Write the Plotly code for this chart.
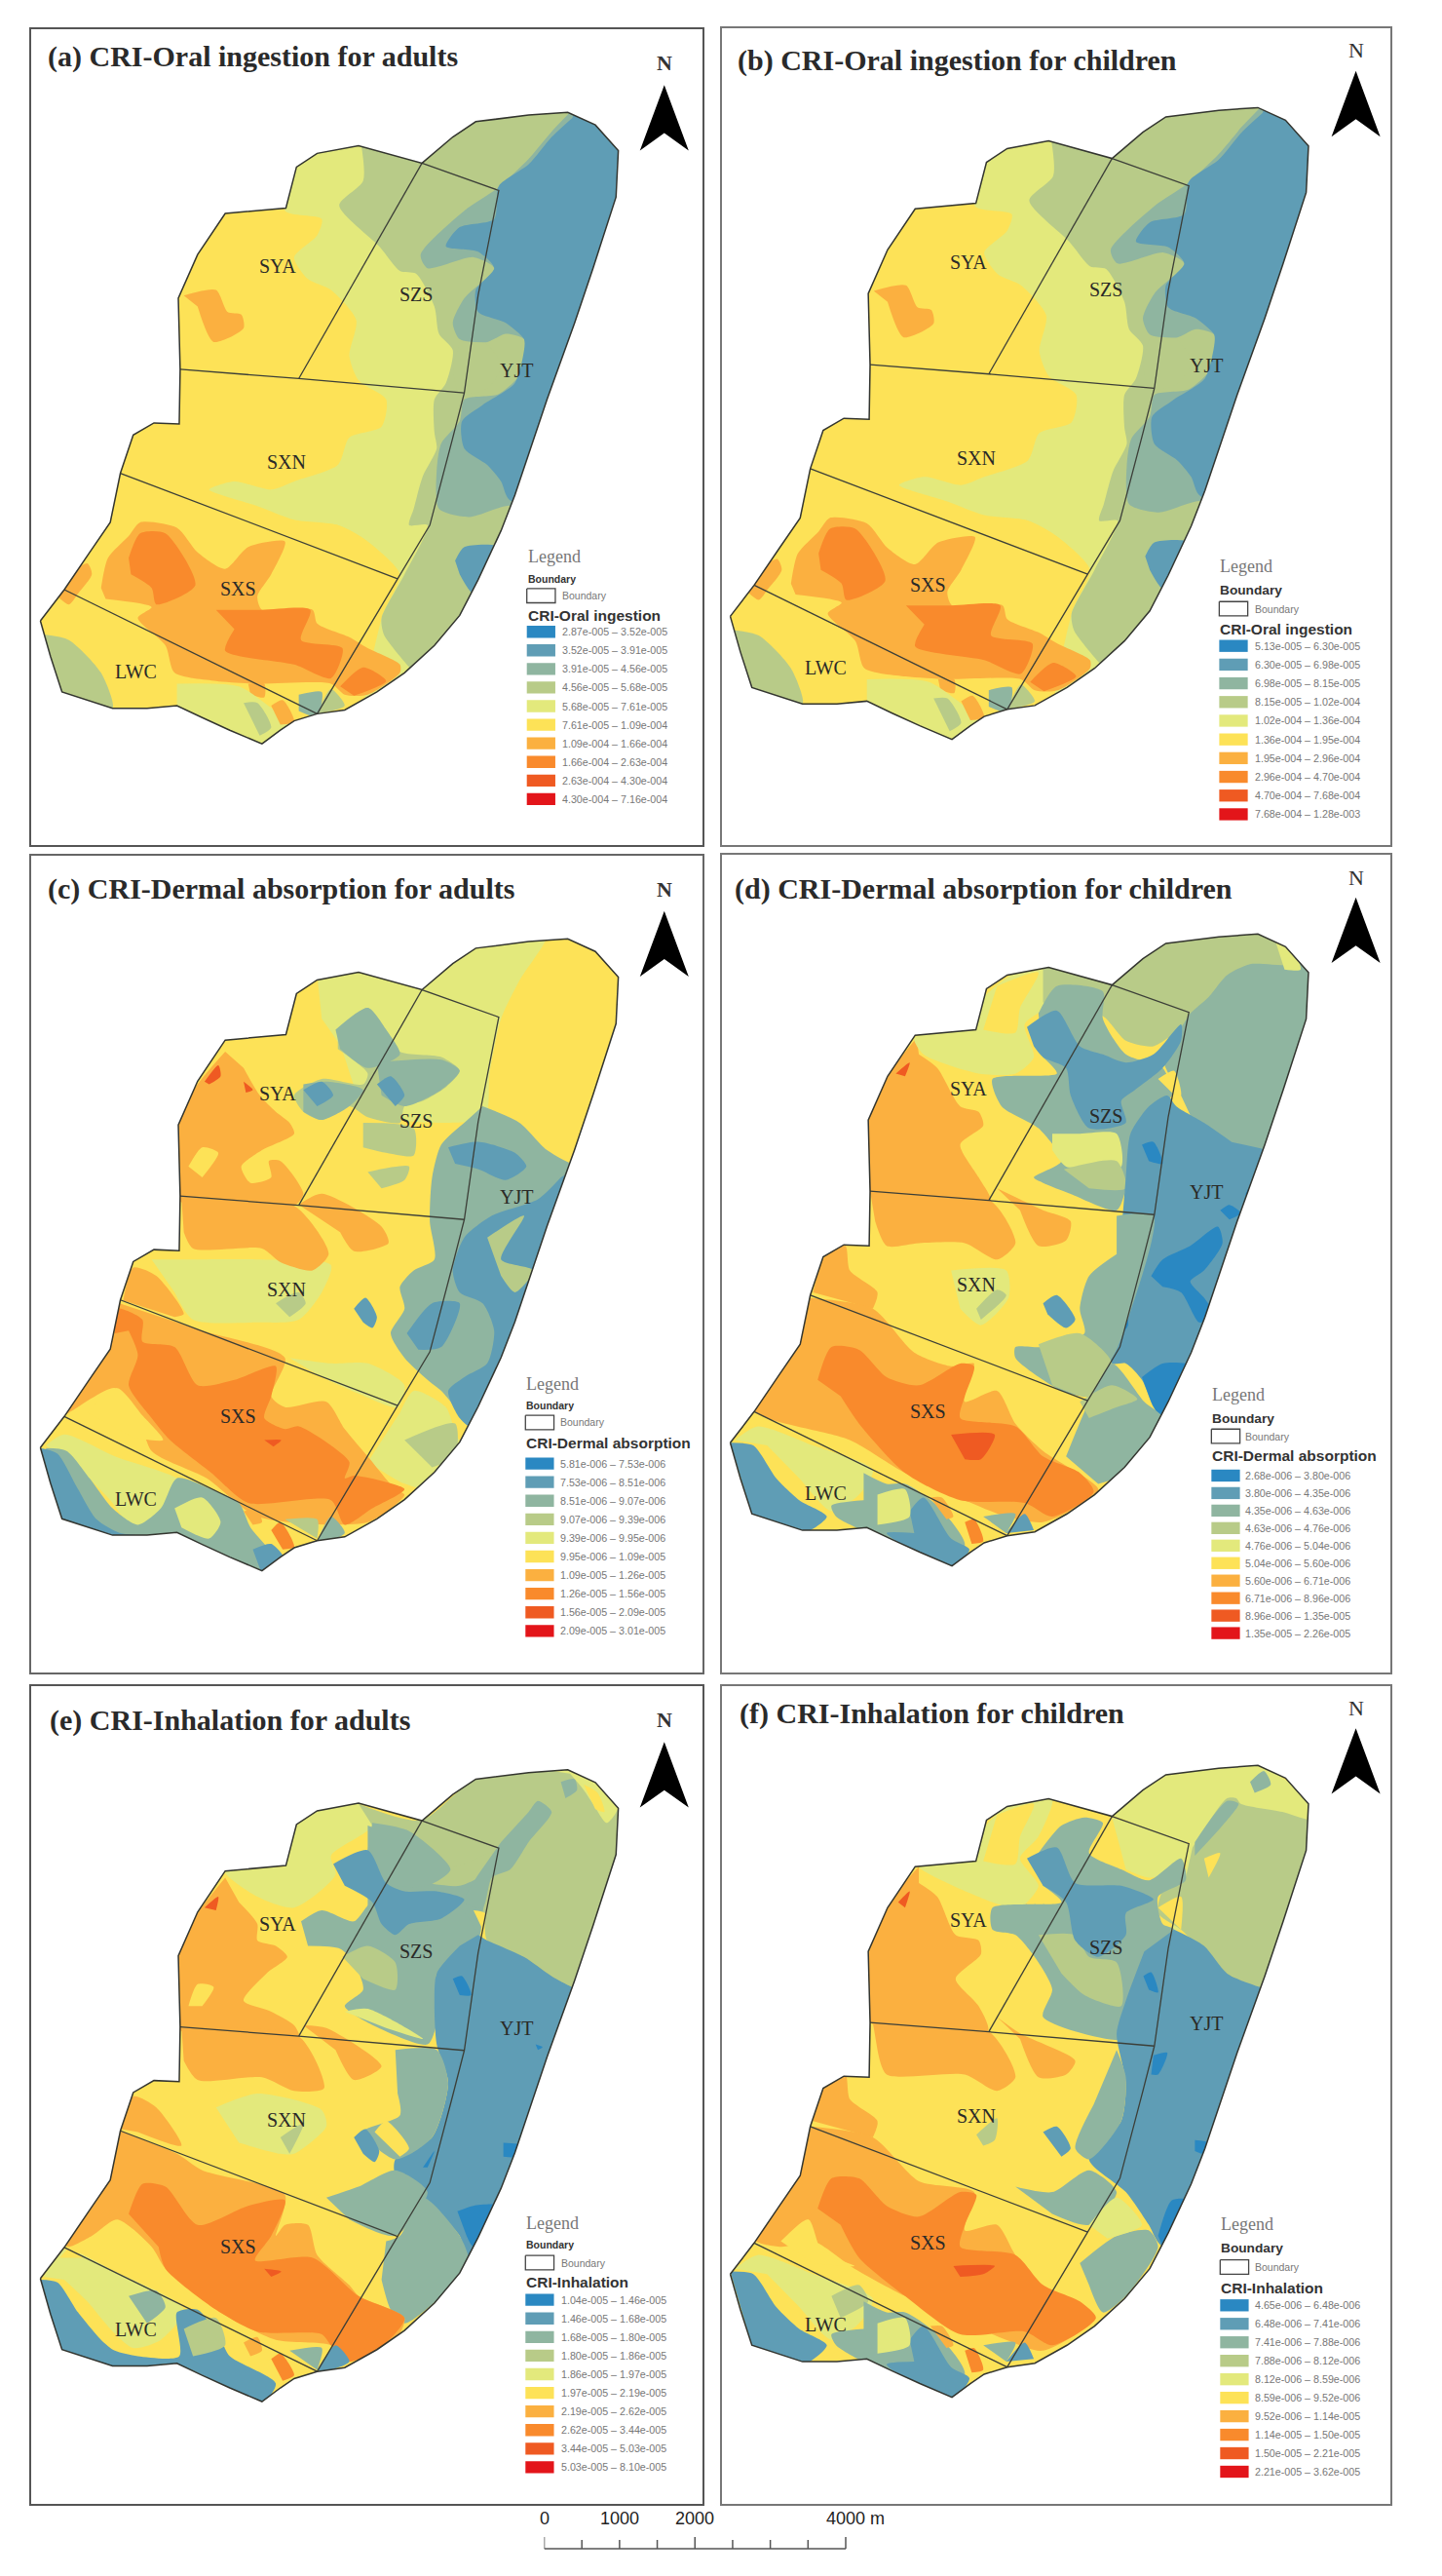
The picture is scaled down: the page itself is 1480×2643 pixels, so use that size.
import plotly.graph_objects as go

W, H = 1480, 2643
COLORS = ["#2a88c2", "#5f9db5", "#8fb5a0", "#b8cb88", "#e3e97c", "#fde257", "#fbb040", "#f98a2c", "#ef5a22", "#e3151a"]
PANEL_TITLES = ["(a) CRI-Oral ingestion for adults", "(b) CRI-Oral ingestion for children",
                "(c) CRI-Dermal absorption for adults", "(d) CRI-Dermal absorption for children",
                "(e) CRI-Inhalation for adults", "(f) CRI-Inhalation for children"]
HEADINGS = ["CRI-Oral ingestion", "CRI-Oral ingestion", "CRI-Dermal absorption", "CRI-Dermal absorption", "CRI-Inhalation", "CRI-Inhalation"]
BREAKS_A = ["2.87e-005", "3.52e-005", "3.91e-005", "4.56e-005", "5.68e-005", "7.61e-005", "1.09e-004", "1.66e-004", "2.63e-004", "4.30e-004", "7.16e-004"]
BREAKS_B = ["5.13e-005", "6.30e-005", "6.98e-005", "8.15e-005", "1.02e-004", "1.36e-004", "1.95e-004", "2.96e-004", "4.70e-004", "7.68e-004", "1.28e-003"]
BREAKS_C = ["5.81e-006", "7.53e-006", "8.51e-006", "9.07e-006", "9.39e-006", "9.95e-006", "1.09e-005", "1.26e-005", "1.56e-005", "2.09e-005", "3.01e-005"]
BREAKS_D = ["2.68e-006", "3.80e-006", "4.35e-006", "4.63e-006", "4.76e-006", "5.04e-006", "5.60e-006", "6.71e-006", "8.96e-006", "1.35e-005", "2.26e-005"]
BREAKS_E = ["1.04e-005", "1.46e-005", "1.68e-005", "1.80e-005", "1.86e-005", "1.97e-005", "2.19e-005", "2.62e-005", "3.44e-005", "5.03e-005", "8.10e-005"]
BREAKS_F = ["4.65e-006", "6.48e-006", "7.41e-006", "7.88e-006", "8.12e-006", "8.59e-006", "9.52e-006", "1.14e-005", "1.50e-005", "2.21e-005", "3.62e-005"]

# map geometry (map units)
OUTLINE = [88,1135, 140,1078, 195,1010, 240,955, 262,865, 290,795, 335,773, 390,775, 392,675, 388,545, 430,465, 490,390,
           622,380, 645,305, 690,280, 780,266, 918,298, 985,250, 1035,222, 1150,210, 1235,205, 1295,228, 1345,275, 1340,360,
           1290,490, 1250,590, 1190,730, 1120,905, 1090,970, 1040,1060, 1000,1125, 945,1180, 880,1230, 820,1265, 750,1298,
           690,1305, 640,1318, 610,1335, 570,1360, 500,1335, 440,1312, 385,1290, 320,1295, 245,1295, 135,1265, 110,1200, 88,1135]
BOUNDARIES = [[918,298, 1085,348, 1040,540, 1010,718, 985,800, 935,960, 865,1058, 690,1305],
              [918,298, 650,692],
              [392,675, 650,692, 1010,718],
              [262,865, 865,1058],
              [140,1078, 690,1305]]
DISTRICTS = ["SYA", "SZS", "YJT", "SXN", "SXS", "LWC"]
DISTRICT_X = [605, 905, 1123, 623, 518, 295]
DISTRICT_Y = [487, 537, 677, 845, 1077, 1228]

REGIONS_A = [
 (4, [600,200, 640,290, 620,385, 700,400, 690,430, 640,470, 670,510, 720,530, 775,585, 760,650, 780,695, 840,730, 830,780, 760,800, 735,850, 640,880, 590,895, 510,880, 455,895, 560,925, 640,950, 735,960, 800,990, 870,1050, 830,1130, 800,1400, 1400,1400, 1400,100, 600,100]),
 (5, [650,955, 735,960, 800,990, 860,1045, 640,985]),
 (3, [785,260, 790,330, 738,375, 825,450, 870,495, 905,500, 945,560, 955,610, 985,640, 970,700, 945,730, 945,790, 950,820, 920,870, 900,930, 890,960, 930,960, 880,1050, 830,1130, 835,1160, 880,1210, 930,1260, 1000,1400, 1400,1400, 1400,100, 785,100]),
 (2, [1240,205, 1200,240, 1150,290, 1080,345, 1010,385, 915,465, 930,490, 1030,470, 1075,490, 1010,545, 985,590, 1000,620, 1060,625, 1100,610, 1140,620, 1135,680, 1085,720, 1010,730, 1000,770, 960,810, 950,860, 955,930, 1020,945, 1100,925, 1400,900, 1400,100, 1250,100]),
 (3, [1000,625, 1060,630, 1090,670, 1060,710, 1000,720, 985,670]),
 (1, [1245,215, 1200,250, 1150,300, 1085,340, 1075,400, 1000,415, 970,450, 1040,460, 1075,490, 1035,530, 1040,570, 1100,590, 1140,620, 1140,640, 1120,700, 1050,740, 1005,770, 1010,820, 1060,850, 1090,880, 1110,915, 1400,900, 1400,100, 1300,100]),
 (1, [990,1025, 1010,1000, 1085,1000, 1030,1085, 1000,1050]),
 (6, [400,540, 470,530, 495,570, 525,575, 530,600, 465,625, 430,560]),
 (6, [220,1075, 235,1020, 280,980, 305,955, 385,965, 430,1010, 490,1040, 540,1000, 620,990, 590,1050, 560,1090, 570,1115, 680,1115, 690,1140, 760,1165, 800,1185, 870,1215, 870,1230, 800,1270, 750,1270, 720,1250, 560,1250, 470,1245, 380,1230, 360,1180, 300,1130, 330,1110, 230,1095]),
 (6, [150,1050, 190,1030, 200,1050, 170,1085, 150,1105, 125,1090]),
 (6, [540,1250, 575,1250, 575,1275, 545,1270]),
 (7, [280,1020, 305,975, 360,975, 425,1070, 340,1105, 330,1075, 285,1050]),
 (7, [470,1115, 570,1115, 675,1115, 655,1170, 745,1185, 720,1240, 640,1215, 490,1190, 510,1150]),
 (7, [740,1255, 790,1220, 840,1245, 770,1272]),
 (4, [385,1250, 520,1255, 600,1300, 640,1320, 570,1360, 385,1290]),
 (6, [590,1290, 615,1280, 640,1320, 610,1325]),
 (3, [95,1160, 150,1170, 220,1230, 245,1295, 135,1270]),
 (3, [530,1285, 560,1285, 590,1330, 565,1345]),
 (3, [690,1305, 720,1260, 750,1290, 720,1300]),
 (2, [650,1270, 700,1265, 690,1310, 650,1300]),
]
REGIONS_C = [
 (4, [690,250, 780,240, 915,270, 1035,190, 1190,175, 1130,260, 1090,330, 1065,430, 1055,510, 960,520, 800,500, 740,380, 700,330]),
 (4, [330,770, 400,770, 560,770, 720,780, 700,830, 650,880, 560,885, 420,880, 380,830]),
 (3, [600,850, 650,830, 665,850, 630,875]),
 (4, [630,950, 720,960, 800,960, 880,1000, 865,1040, 780,1015, 700,985]),
 (4, [870,1050, 900,1010, 970,1040, 1000,1100, 1050,1080, 1020,1130, 940,1190, 880,1180, 800,1140]),
 (3, [880,1100, 990,1070, 990,1130, 940,1150]),
 (4, [100,1110, 140,1090, 250,1130, 400,1180, 350,1240, 290,1260, 240,1210, 170,1150]),
 (6, [490,390, 430,450, 385,525, 385,660, 640,672, 660,650, 610,590, 585,590, 590,620, 545,630, 525,600, 570,570, 640,540, 630,520, 600,500, 565,470, 530,420]),
 (5, [410,600, 440,565, 475,575, 440,620]),
 (6, [395,660, 640,672, 715,760, 680,790, 610,775, 570,750, 420,750, 400,720]),
 (6, [650,670, 700,650, 830,710, 845,740, 770,755, 740,720]),
 (6, [268,845, 290,785, 340,800, 400,870, 380,875]),
 (6, [260,850, 440,900, 620,950, 590,1020, 620,1040, 710,1030, 750,1080, 800,1130, 860,1190, 880,1200, 800,1250, 560,1240, 450,1170, 330,1120, 300,1050, 250,1005, 150,1050, 135,1055, 170,1010, 235,940, 250,880]),
 (5, [190,1050, 255,1005, 310,1055, 355,1100, 290,1095]),
 (7, [250,905, 255,860, 310,880, 310,920, 380,930, 430,1000, 510,990, 600,965, 590,1020, 575,1060, 620,1080, 650,1075, 760,1140, 750,1170, 770,1165, 880,1190, 810,1225, 750,1255, 720,1210, 540,1215, 460,1160, 370,1100, 330,1060, 280,1000, 300,945, 280,900]),
 (8, [575,1100, 612,1100, 595,1112]),
 (8, [445,445, 475,415, 480,435, 455,450]),
 (8, [530,445, 550,460, 535,465]),
 (3, [735,355, 800,310, 840,350, 870,390, 960,400, 1000,425, 970,455, 920,480, 880,490, 870,520, 800,510, 760,490, 700,515, 660,500, 640,470, 700,440, 790,450, 800,430, 760,400, 735,385]),
 (2, [660,450, 710,445, 790,460, 760,490, 700,515, 660,500]),
 (2, [730,350, 800,310, 840,350, 870,395, 800,420, 740,385]),
 (2, [820,410, 960,405, 1000,425, 960,460, 880,490, 830,470]),
 (1, [820,450, 850,435, 880,470, 860,490]),
 (1, [660,460, 700,445, 725,470, 690,490]),
 (3, [790,520, 900,530, 900,580, 840,575, 790,565]),
 (3, [800,610, 890,600, 880,625, 830,640]),
 (2, [1050,490, 1130,520, 1190,570, 1260,600, 1400,600, 1400,1300, 1030,1080, 990,1040, 960,1010, 930,990, 880,950, 850,905, 880,860, 870,820, 900,790, 945,770, 935,700, 940,620, 960,560, 1010,520]),
 (1, [1260,600, 1400,600, 1400,1100, 1040,1085, 1000,1060, 975,1010, 1010,985, 1060,960, 1075,900, 1050,850, 1000,830, 985,790, 1010,730, 1070,690, 1170,660, 1220,620]),
 (3, [1060,730, 1140,690, 1090,770, 1160,790, 1120,830, 1090,800]),
 (1, [975,565, 1040,555, 1120,575, 1145,600, 1100,625, 1040,605, 990,595]),
 (1, [770,860, 795,840, 820,875, 810,895, 790,885]),
 (1, [885,905, 940,850, 1000,850, 960,930, 910,935]),
 (2, [100,1115, 145,1120, 195,1170, 245,1225, 300,1255, 350,1225, 385,1170, 460,1190, 520,1215, 545,1260, 600,1320, 570,1345, 380,1275, 240,1280, 135,1250]),
 (4, [380,1225, 440,1205, 480,1250, 455,1280, 395,1260]),
 (1, [88,1115, 125,1125, 170,1190, 210,1245, 260,1270, 300,1275, 240,1285, 135,1265]),
 (1, [550,1300, 590,1290, 620,1320, 570,1345]),
 (6, [530,1230, 560,1230, 570,1250, 550,1255]),
 (7, [590,1265, 610,1250, 640,1295, 615,1300]),
 (2, [690,1285, 720,1240, 750,1270, 700,1290]),
 (3, [620,1245, 690,1245, 690,1280]),
]
REGIONS_D = [
 (6, [425,365, 370,425, 320,515, 325,650, 585,662, 560,620, 520,560, 570,525, 560,500, 520,490, 470,420, 430,395]),
 (6, [325,650, 585,662, 640,740, 600,770, 530,740, 430,740, 360,745, 335,700]),
 (6, [600,640, 650,660, 700,680, 760,700, 750,735, 690,745, 650,680]),
 (6, [200,830, 225,765, 270,745, 280,790, 340,830, 330,860]),
 (4, [500,790, 620,790, 625,840, 565,890, 520,860]),
 (3, [555,860, 600,825, 620,835, 565,880]),
 (6, [190,840, 330,860, 420,940, 500,965, 550,960, 530,1000, 530,1030, 600,1010, 640,1070, 700,1120, 820,1190, 780,1220, 700,1250, 620,1240, 400,1160, 280,1100, 75,1048, 120,990, 170,925]),
 (7, [210,990, 240,930, 300,935, 360,985, 430,1000, 520,960, 550,965, 530,1020, 520,1060, 640,1075, 700,1130, 780,1160, 810,1195, 720,1240, 660,1215, 520,1210, 400,1160, 300,1070, 260,1020]),
 (8, [500,1090, 595,1090, 565,1135, 530,1135]),
 (8, [380,430, 410,410, 400,435]),
 (4, [30,1100, 80,1075, 200,1110, 330,1155, 300,1200, 240,1230, 170,1170, 100,1110]),
 (5, [70,1060, 100,1060, 60,1080]),
 (1, [20,1105, 70,1110, 120,1170, 170,1210, 230,1240, 180,1270, 70,1245]),
 (2, [310,1160, 360,1180, 400,1180, 470,1220, 530,1290, 500,1335, 320,1270, 250,1240, 240,1220, 310,1210]),
 (1, [410,1230, 440,1205, 500,1280, 540,1300, 500,1335, 360,1270, 420,1270]),
 (4, [340,1200, 400,1190, 410,1240, 340,1255]),
 (6, [455,1205, 480,1205, 505,1240, 490,1245]),
 (7, [530,1250, 550,1245, 570,1285, 545,1290]),
 (2, [570,1240, 640,1235, 620,1270]),
 (1, [620,1270, 660,1235, 680,1265]),
 (4, [570,290, 650,240, 730,235, 720,300, 660,340, 680,400, 640,430, 560,430, 440,395, 420,365, 555,350]),
 (5, [600,270, 690,245, 650,310, 640,355, 570,350]),
 (2, [1000,470, 960,400, 1000,320, 1110,200, 1400,100, 1400,800, 1190,650, 1050,560]),
 (3, [700,230, 850,260, 965,185, 1170,165, 1250,230, 1150,230, 1100,250, 1060,290, 1020,320, 1000,345, 940,380, 880,370, 830,325, 750,310, 700,300]),
 (4, [1200,175, 1240,200, 1260,240, 1225,240]),
 (2, [690,320, 730,270, 830,280, 830,330, 880,395, 960,420, 980,470, 930,500, 890,560, 880,640, 860,680, 760,650, 700,630, 680,620, 740,590, 690,530, 610,490, 590,440, 730,430, 700,400]),
 (4, [720,540, 780,540, 860,540, 870,600, 800,600, 750,600, 720,570]),
 (3, [745,605, 860,590, 880,640, 800,640]),
 (1, [665,345, 730,315, 780,380, 830,395, 880,410, 940,395, 1000,340, 1000,370, 960,420, 900,460, 870,480, 880,520, 800,530, 760,470, 750,420, 700,400, 680,380]),
 (5, [950,440, 985,425, 1000,470, 980,465]),
 (1, [1190,570, 1400,600, 1400,1100, 960,1060, 940,1040, 915,990, 880,960, 850,960, 800,900, 850,840, 870,720, 880,620, 890,540, 930,490, 970,470, 990,490, 1050,520, 1110,555]),
 (0, [935,800, 960,770, 1020,745, 1080,710, 1090,740, 1050,790, 1020,810, 1050,840, 1070,870, 1040,885, 1000,830, 960,820]),
 (0, [915,985, 960,960, 1025,965, 960,1060, 935,1030]),
 (0, [915,560, 940,555, 960,595, 930,590]),
 (0, [1085,680, 1105,670, 1130,685, 1105,697]),
 (0, [1140,650, 1170,610, 1175,630, 1150,675]),
 (0, [840,905, 880,870, 885,890, 860,915]),
 (2, [860,690, 940,690, 880,890, 850,950, 790,1000, 800,1020, 740,1010, 640,950, 640,930, 700,930, 790,905, 780,860, 800,800, 860,760]),
 (3, [690,925, 780,905, 850,960, 800,1020, 720,1000]),
 (1, [700,850, 730,835, 770,880, 750,895, 710,870]),
 (2, [750,1130, 800,1030, 850,960, 920,1030, 960,1060, 880,1160, 820,1180]),
 (3, [780,1030, 850,1000, 905,1025, 860,1040, 800,1060]),
]
REGIONS_E = [
 (4, [645,285, 700,255, 780,250, 810,290, 720,345, 730,380, 640,440, 560,420, 490,375, 620,365]),
 (3, [780,250, 915,280, 1035,205, 1230,185, 1300,205, 1400,260, 1400,600, 1260,590, 1200,565, 1140,530, 1060,500, 1050,450, 1000,440, 1010,420, 1050,380, 1085,340, 980,370, 890,320, 810,290]),
 (4, [1200,190, 1240,185, 1300,205, 1345,255, 1320,285, 1290,250, 1270,225, 1240,195]),
 (5, [1270,215, 1300,230, 1315,265, 1295,260]),
 (2, [1220,210, 1250,205, 1255,225, 1230,240]),
 (2, [800,290, 890,320, 980,375, 1060,370, 1050,450, 1040,500, 950,560, 800,520]),
 (3, [890,310, 980,365, 1085,335, 1060,375, 1000,400, 930,395]),
 (2, [1090,320, 1150,265, 1170,245, 1200,265, 1150,320, 1110,370, 1070,385, 1050,440, 1010,430, 1040,380]),
 (2, [810,285, 890,300, 980,370, 930,400, 840,395, 800,335]),
 (2, [655,465, 700,445, 770,465, 810,430, 890,480, 960,460, 1000,440, 1040,500, 1000,510, 950,560, 950,650, 930,690, 800,650, 750,620, 790,590, 770,540, 740,515, 670,510]),
 (5, [1030,445, 1055,450, 1050,480]),
 (3, [745,530, 800,510, 860,540, 860,590, 790,570]),
 (4, [750,630, 800,625, 920,680, 840,660]),
 (1, [725,360, 800,335, 840,395, 880,410, 950,410, 1010,425, 960,460, 890,470, 860,490, 830,470, 810,430, 750,400]),
 (1, [1040,490, 1060,500, 1140,530, 1200,565, 1260,590, 1400,600, 1400,1100, 1020,1090, 1000,1040, 920,970, 860,930, 860,900, 940,860, 975,760, 950,690, 945,620, 950,560, 1000,510]),
 (0, [985,570, 1005,565, 1025,600, 1000,600]),
 (0, [1095,870, 1135,875, 1125,895, 1095,895]),
 (0, [1165,690, 1180,695, 1170,700]),
 (0, [1215,665, 1230,650, 1225,680]),
 (0, [995,995, 1030,985, 1085,985, 1030,1060, 1015,1040]),
 (0, [920,915, 945,885, 930,915]),
 (2, [860,700, 950,700, 975,760, 940,860, 860,900, 790,850, 870,820, 865,780]),
 (2, [710,970, 780,950, 860,920, 930,960, 860,1040, 760,1010]),
 (2, [840,1050, 870,1040, 920,970, 1000,1040, 1020,1090, 960,1150, 880,1200, 850,1175, 830,1120]),
 (1, [770,860, 795,845, 825,885, 815,905, 790,890]),
 (5, [815,850, 840,830, 890,880, 870,895]),
 (4, [470,805, 560,780, 700,810, 710,840, 640,890, 610,890, 520,870]),
 (3, [610,860, 660,835, 630,890]),
 (6, [490,385, 430,450, 385,525, 385,660, 650,675, 640,655, 590,630, 530,610, 580,560, 625,530, 600,510, 560,500, 560,470, 520,430]),
 (5, [410,620, 430,580, 465,585, 440,620]),
 (6, [395,660, 650,675, 705,770, 640,775, 570,750, 430,755, 400,720]),
 (6, [660,655, 710,660, 830,730, 770,755, 730,700]),
 (6, [265,845, 290,785, 340,805, 395,875, 300,850]),
 (6, [262,848, 385,890, 440,920, 620,965, 600,1040, 620,1020, 670,1020, 690,1075, 760,1130, 780,1150, 880,1190, 860,1230, 750,1270, 720,1240, 600,1230, 480,1180, 360,1100, 330,1060, 255,1010, 200,1040, 150,1060, 140,1055, 180,1000, 235,940, 250,880]),
 (7, [280,1000, 310,945, 360,950, 430,1020, 540,985, 620,975, 590,1040, 555,1085, 680,1080, 780,1150, 880,1190, 840,1235, 760,1270, 720,1240, 700,1220, 560,1215, 470,1175, 360,1100, 345,1060]),
 (4, [95,1115, 140,1065, 250,1105, 400,1175, 350,1230, 290,1245, 240,1210, 190,1160, 140,1120]),
 (5, [130,1080, 155,1060, 180,1080]),
 (1, [88,1120, 125,1125, 170,1180, 220,1230, 250,1250, 300,1260, 390,1260, 385,1180, 430,1175, 480,1230, 500,1260, 600,1310, 570,1345, 385,1275, 245,1285, 135,1265]),
 (2, [280,1150, 340,1140, 360,1170, 320,1200]),
 (3, [400,1210, 470,1190, 490,1240, 420,1260]),
 (6, [530,1235, 560,1225, 570,1250, 545,1260]),
 (7, [590,1265, 610,1255, 640,1295, 615,1305]),
 (2, [630,1250, 700,1245, 690,1285]),
 (1, [690,1285, 730,1240, 760,1270, 700,1290]),
 (8, [575,1100, 612,1105, 590,1115]),
 (8, [445,440, 475,420, 470,445]),
]
REGIONS_F = [
 (4, [845,270, 980,192, 1170,178, 1280,240, 1400,300, 1400,620, 1190,590, 1050,500, 1010,480, 980,480, 1000,420, 1018,320]),
 (3, [1025,330, 1100,240, 1120,240, 1130,250, 1220,265, 1278,280, 1400,300, 1400,620, 1180,590, 1100,560, 1060,530, 1000,480, 950,450, 960,410, 1010,385]),
 (5, [1050,350, 1085,340, 1060,385]),
 (5, [950,440, 1000,420, 1000,480]),
 (2, [1150,210, 1180,190, 1195,215, 1160,230]),
 (2, [1030,320, 1100,245, 1125,250, 1090,290, 1030,345]),
 (4, [570,295, 620,255, 720,240, 690,310, 650,350, 690,400, 650,440, 590,430, 430,365, 555,355]),
 (5, [600,270, 680,250, 650,310, 640,360, 570,355]),
 (4, [850,275, 1015,320, 1000,370, 930,385, 880,370]),
 (2, [690,340, 740,290, 790,275, 830,285, 800,340, 870,370, 930,390, 1000,350, 1010,390, 950,420, 960,470, 985,480, 940,520, 890,600, 880,680, 700,640, 720,590, 690,540, 640,490, 590,480, 590,440, 740,430, 700,400]),
 (3, [690,490, 770,490, 800,530, 860,540, 870,620, 790,600, 740,560]),
 (1, [665,350, 730,330, 770,395, 870,400, 940,425, 880,450, 880,490, 820,530, 770,500, 750,430, 700,400]),
 (1, [985,480, 1050,510, 1100,560, 1190,590, 1400,620, 1400,1100, 960,1060, 930,1020, 880,960, 800,900, 870,830, 880,760, 860,670, 880,610, 920,520]),
 (0, [918,565, 935,558, 950,595, 930,590]),
 (0, [1030,865, 1060,870, 1050,890, 1030,885]),
 (0, [940,710, 970,705, 950,745, 935,745]),
 (0, [950,1040, 980,975, 1020,975, 960,1060]),
 (2, [780,1090, 860,1040, 930,1030, 950,1060, 880,1150, 830,1180, 800,1130]),
 (2, [640,950, 720,960, 800,920, 860,960, 800,1020, 720,1000]),
 (4, [800,1020, 860,970, 915,1020, 840,1045]),
 (1, [700,850, 730,840, 760,880, 740,895]),
 (2, [860,700, 880,750, 870,830, 800,900, 770,880, 810,800]),
 (3, [555,855, 600,825, 595,865, 570,875]),
 (6, [430,365, 370,425, 322,520, 325,650, 580,665, 560,620, 510,570, 565,525, 560,500, 510,490, 470,420, 430,395]),
 (6, [330,650, 580,665, 640,750, 600,775, 530,745, 360,745, 340,700]),
 (6, [600,640, 650,670, 770,720, 750,745, 690,750, 650,680]),
 (6, [200,830, 225,765, 270,745, 280,790, 340,830, 330,860]),
 (6, [195,840, 330,860, 430,940, 550,960, 530,1030, 600,1020, 640,1075, 700,1130, 810,1190, 700,1250, 620,1230, 400,1150, 290,1100, 200,1050, 130,1060, 75,1048, 120,990, 170,925]),
 (5, [130,1050, 190,1010, 220,1070, 290,1095, 200,1090]),
 (7, [210,990, 240,935, 300,935, 360,985, 430,1005, 520,960, 555,965, 530,1020, 520,1060, 640,1075, 700,1130, 780,1160, 815,1190, 720,1240, 660,1215, 520,1220, 400,1150, 300,1080, 260,1020]),
 (8, [505,1095, 595,1095, 570,1110, 520,1115]),
 (8, [385,430, 410,410, 400,440]),
 (4, [30,1100, 80,1075, 200,1110, 330,1155, 300,1200, 240,1230, 170,1170, 100,1110]),
 (3, [240,1150, 300,1130, 320,1160, 260,1190]),
 (1, [20,1105, 70,1110, 120,1170, 170,1210, 230,1240, 180,1275, 70,1250]),
 (2, [310,1160, 360,1180, 400,1180, 470,1220, 530,1290, 500,1340, 320,1275, 250,1240, 240,1220, 310,1210]),
 (1, [410,1230, 440,1205, 500,1280, 540,1300, 500,1340, 360,1275, 420,1270]),
 (4, [340,1200, 400,1190, 410,1240, 340,1255]),
 (6, [455,1205, 480,1205, 505,1240, 490,1245]),
 (7, [530,1250, 550,1245, 570,1285, 545,1290]),
 (2, [570,1240, 640,1235, 620,1270]),
 (1, [620,1270, 660,1235, 680,1265]),
]
# panel frames in map units and in page pixels, map shift relative to panel a
FRAME_X = [(68,1527), (2,1455), (68,1527), (2,1455), (68,1527), (2,1455)]
FRAME_Y = [(53,1545), (52,1545), (32,1525), (30,1525), (35,1530), (35,1530)]
PAGE_X = [(32,720.5), (741,1427), (32,720.5), (741,1427), (32,720.5), (741,1427)]
PAGE_Y = [(30,867), (29,867), (878,1716), (877,1716), (1730,2569), (1730,2569)]
FRAME_COLOR = ["#555555", "#777777", "#666666", "#777777", "#555555", "#777777"]
SHIFT = [(0,0), (-68,-8), (0,-21), (-68,-30), (0,-17), (-68,-25)]
TITLE_POS = [(105,103), (35,110), (105,92), (30,93), (108,97), (40,85)]
NORTH_POS = [(1445,115), (1380,92), (1445,93), (1380,72), (1445,97), (1380,75)]
ARROW_TIP = [155, 130, 133, 108, 137, 112]
LEG_X = [1146, 1083, 1143, 1066, 1143, 1085]
LEG_TEXT_X = [1222, 1160, 1218, 1140, 1220, 1160]
LEG_Y = [1018, 1035, 998, 1018, 1017, 1018]
LEG_BOLD_Y = [1058, 1079, 1037, 1060, 1056, 1062]
LEG_BOX_Y = [1076, 1100, 1055, 1080, 1076, 1084]
LEG_HEAD_Y = [1126, 1150, 1105, 1128, 1125, 1135]
LEG_FIRST_Y = [1155, 1181, 1143, 1165, 1157, 1167]
LEG_STEP_Y = [34, 34.2, 34, 32, 34, 33.8]
BOLD_SIZE = [10.5, 13.7, 10.5, 13.7, 10.5, 13.7]
BREAKS = [BREAKS_A, BREAKS_B, BREAKS_C, BREAKS_D, BREAKS_E, BREAKS_F]
REGIONS = [REGIONS_A, [], REGIONS_C, REGIONS_D, REGIONS_E, REGIONS_F]

SCALE_TICKS = [0, 500, 1000, 1500, 2000, 2500, 3000, 3500, 4000]
SCALE_LABELS = {0: "0", 1000: "1000", 2000: "2000", 4000: "4000 m"}

fig = go.Figure()
layout = dict(width=W, height=H, margin=dict(l=0, r=0, t=0, b=0), paper_bgcolor="white", plot_bgcolor="white", showlegend=False)
annos = []


def poly(xa, ya, flat, color, dx=0, dy=0, smooth=False):
    ln = dict(width=0, shape="spline", smoothing=0.7) if smooth else dict(width=0)
    fig.add_trace(go.Scatter(x=[v + dx for v in flat[0::2]], y=[v + dy for v in flat[1::2]], mode="lines", fill="toself",
                             fillcolor=color, line=ln, hoverinfo="skip", xaxis=xa, yaxis=ya))


def line(xa, ya, flat, color, width, dx=0, dy=0):
    fig.add_trace(go.Scatter(x=[v + dx for v in flat[0::2]], y=[v + dy for v in flat[1::2]], mode="lines",
                             line=dict(width=width, color=color), hoverinfo="skip", xaxis=xa, yaxis=ya))


def text(xa, ya, x, y, s, size, color, family, anchor="left"):
    annos.append(dict(x=x, y=y, xref=xa, yref=ya, text=s, showarrow=False, xanchor=anchor, yanchor="middle",
                      align="left", font=dict(size=size, color=color, family=family), borderpad=0, borderwidth=0))


SERIF = "Liberation Serif"
SANS = "Liberation Sans"
for i in range(6):
    n = "" if i == 0 else str(i + 1)
    xa, ya = "x" + n, "y" + n
    x0, x1 = FRAME_X[i]
    y0, y1 = FRAME_Y[i]
    lw = 1.5 if i % 2 == 0 else 2
    layout["xaxis" + n] = dict(domain=[PAGE_X[i][0] / W, PAGE_X[i][1] / W], range=[x0, x1], visible=True, showticklabels=False,
                               ticks="", showgrid=False, zeroline=False, showline=True, mirror=True, linecolor=FRAME_COLOR[i], linewidth=lw, anchor=ya)
    layout["yaxis" + n] = dict(domain=[1 - PAGE_Y[i][1] / H, 1 - PAGE_Y[i][0] / H], range=[y1, y0], visible=True, showticklabels=False,
                               ticks="", showgrid=False, zeroline=False, showline=True, mirror=True, linecolor=FRAME_COLOR[i], linewidth=lw, anchor=xa)
    dx, dy = SHIFT[i]
    # base fill: the whole map in the dominant class
    poly(xa, ya, OUTLINE, COLORS[5], dx, dy)
    if i == 1:
        regs, rdx, rdy = REGIONS_A, dx, dy
    else:
        regs, rdx, rdy = REGIONS[i], 0, 0
    for c, flat in regs:
        poly(xa, ya, flat, COLORS[c], rdx, rdy, smooth=True)
    # white mask outside the study area (frame with a keyhole cut along the outline)
    ox = [v + dx for v in OUTLINE[0::2]][::-1]
    oy = [v + dy for v in OUTLINE[1::2]][::-1]
    mx = [x0, x1, x1, x0, x0] + ox + [x0]
    my = [y0, y0, y1, y1, y0] + oy + [y0]
    fig.add_trace(go.Scatter(x=mx, y=my, mode="lines", fill="toself", fillcolor="white", line=dict(width=0), hoverinfo="skip", xaxis=xa, yaxis=ya))
    for b in BOUNDARIES:
        line(xa, ya, b, "#3c3f38", 1.3, dx, dy)
    line(xa, ya, OUTLINE, "#33352f", 1.5, dx, dy)
    for s, lx, ly in zip(DISTRICTS, DISTRICT_X, DISTRICT_Y):
        text(xa, ya, lx + dx, ly + dy, s, 20, "#2a2a28", SERIF, "center")
    text(xa, ya, TITLE_POS[i][0], TITLE_POS[i][1], "<b>%s</b>" % PANEL_TITLES[i], 30, "#2a2a2a", SERIF)
    # north arrow
    nx, ny = NORTH_POS[i]
    tip = ARROW_TIP[i]
    text(xa, ya, nx, ny, "<b>N</b>" if i % 2 == 0 else "N", 22, "#333333", SERIF, "center")
    poly(xa, ya, [nx, tip, nx + 53, tip + 120, nx, tip + 88, nx - 53, tip + 120], "#000000")
    # legend
    lx, tx = LEG_X[i], LEG_TEXT_X[i]
    text(xa, ya, lx + 2, LEG_Y[i], "Legend", 18, "#777777", SERIF)
    text(xa, ya, lx + 2, LEG_BOLD_Y[i], "<b>Boundary</b>", BOLD_SIZE[i], "#333333", SANS)
    by = LEG_BOX_Y[i]
    line(xa, ya, [lx, by, lx + 62, by, lx + 62, by + 26, lx, by + 26, lx, by], "#444444", 1.3)
    text(xa, ya, tx, by + 13, "Boundary", 10.5, "#777777", SANS)
    text(xa, ya, lx + 2, LEG_HEAD_Y[i], "<b>%s</b>" % HEADINGS[i], 15.5, "#333333", SANS)
    br = BREAKS[i]
    for k in range(10):
        yc = LEG_FIRST_Y[i] + k * LEG_STEP_Y[i]
        poly(xa, ya, [lx, yc - 11, lx + 62, yc - 11, lx + 62, yc + 11, lx, yc + 11], COLORS[k])
        text(xa, ya, tx, yc, "%s – %s" % (br[k], br[k + 1]), 10.7, "#777777", SANS)

# scale bar, drawn on its own axis in metres
layout["xaxis7"] = dict(domain=[558.5 / W, (558.5 + 309.5 * 1.25) / W], range=[0, 5000], visible=False, anchor="y7")
layout["yaxis7"] = dict(domain=[1 - 2620 / H, 1 - 2570 / H], range=[2620, 2570], visible=False, anchor="x7")
for t in SCALE_TICKS:
    top = 2603 if t % 2000 == 0 else 2606
    line("x7", "y7", [t, top, t, 2615], "#555555", 1.5)
    if t in SCALE_LABELS:
        anchor_x = t + (len(SCALE_LABELS[t]) > 4) * 135
        text("x7", "y7", anchor_x, 2584, SCALE_LABELS[t], 18, "#222222", SANS, "center")
line("x7", "y7", [SCALE_TICKS[0], 2615, SCALE_TICKS[-1], 2615], "#555555", 1.5)

layout["annotations"] = annos
fig.update_layout(**layout)
fig.write_html("out.html", config=dict(displayModeBar=False), post_script="document.body.style.margin='0';")
